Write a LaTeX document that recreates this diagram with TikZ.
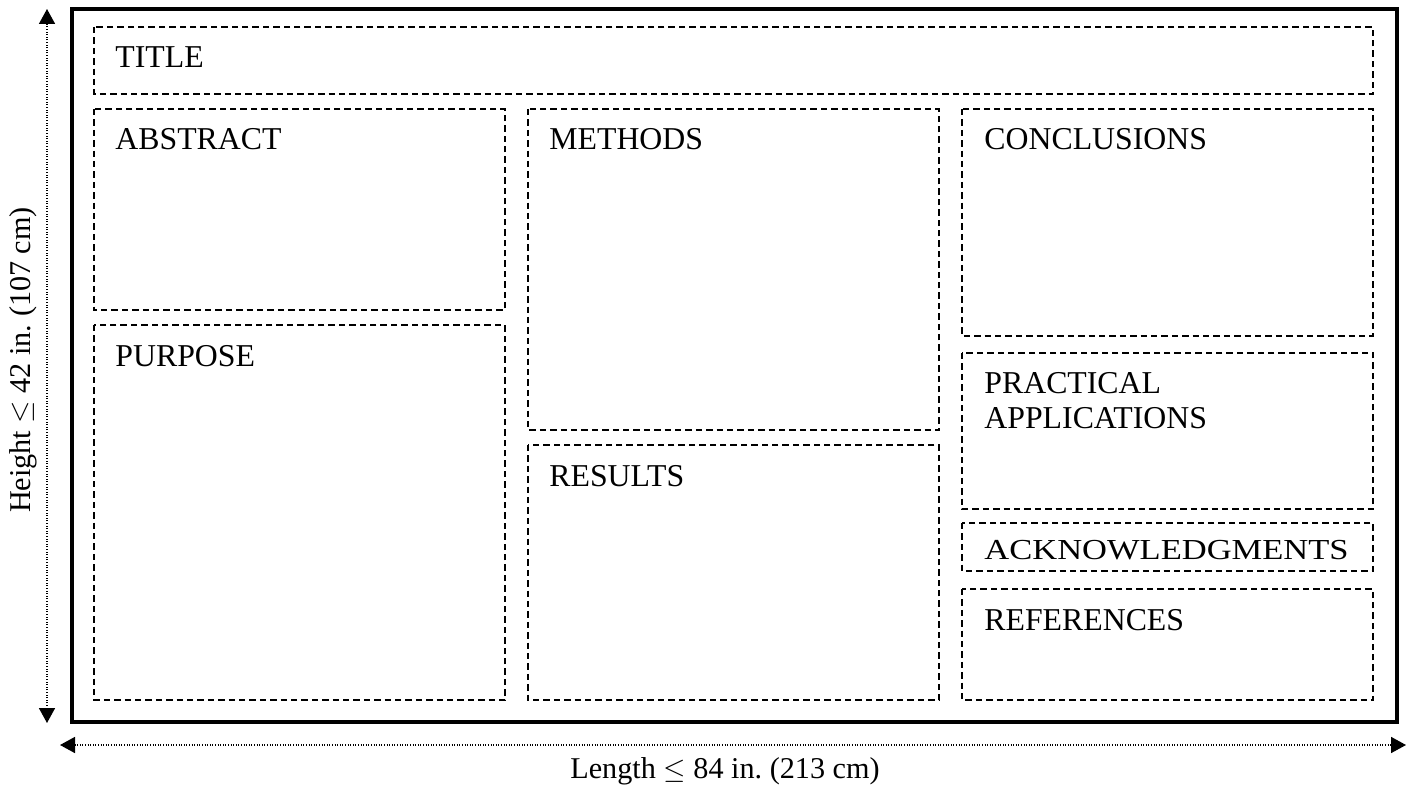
\documentclass[tikz,border=0pt]{standalone}
\usepackage{fontspec}
\setmainfont{Liberation Serif}
\usetikzlibrary{arrows.meta}
\frenchspacing
\begin{document}
\begin{tikzpicture}[x=0.5pt,y=-0.5pt,
  dbox/.style={draw=black,line width=1pt,dash pattern=on 3.2pt off 2pt},
  frame/.style={draw=black,line width=2pt},
  lbl/.style={anchor=base west,inner sep=0pt,font=\fontsize{15.9}{17.5}\selectfont,align=left},
  dim/.style={line width=0.8pt,dash pattern=on 0.4pt off 0.9pt,{Triangle[length=7.5pt,width=8pt]}-{Triangle[length=7.5pt,width=8pt]}},
  dimlbl/.style={inner sep=0pt,font=\fontsize{15.1}{17}\selectfont}]
\useasboundingbox (0,0) rectangle (1408,786);
% outer frame
\draw[frame] (72,9) rectangle (1397,722);
% boxes
\draw[dbox] (94,27) rectangle (1373,94);
\draw[dbox] (94,109) rectangle (505,310);
\draw[dbox] (94,325) rectangle (505,700);
\draw[dbox] (528,109) rectangle (939,430);
\draw[dbox] (528,445) rectangle (939,700);
\draw[dbox] (962,109) rectangle (1373,336);
\draw[dbox] (962,353) rectangle (1373,509);
\draw[dbox] (962,523) rectangle (1373,571);
\draw[dbox] (962,589) rectangle (1373,700);
% labels
\node[lbl] (title) at (115,68) {TITLE};
\node[lbl] (abstract) at (115,150) {ABSTRACT};
\node[lbl] (purpose) at (115,366) {PURPOSE};
\node[lbl] (methods) at (549,150) {METHODS};
\node[lbl] (results) at (549,486) {RESULTS};
\node[lbl] (concl) at (984,150) {CONCLUSIONS};
\node[lbl] (pract) at (984,393) {PRACTICAL};
\node[lbl] (appl) at (984,428) {APPLICATIONS};
\node[lbl,font=\fontsize{14.5}{16}\selectfont] (ack) at (984,559) {\scalebox{1.19}[1]{ACKNOWLEDGMENTS}};
\node[lbl] (refs) at (984,630) {REFERENCES};
% dimension arrows
\coordinate (vt) at (47,9);
\coordinate (vb) at (47,723);
\coordinate (hl) at (60,745);
\coordinate (hr) at (1406,745);
\draw[dim] (vb) -- (vt);
\draw[dim] (hl) -- (hr);
\node[dimlbl,rotate=90] (hlab) at (23,360) {Height ${\leq}$ 42 in. (107 cm)};
\node[dimlbl] (llab) at (725,771) {Length ${\leq}$ 84 in. (213 cm)};
\end{tikzpicture}
\end{document}
